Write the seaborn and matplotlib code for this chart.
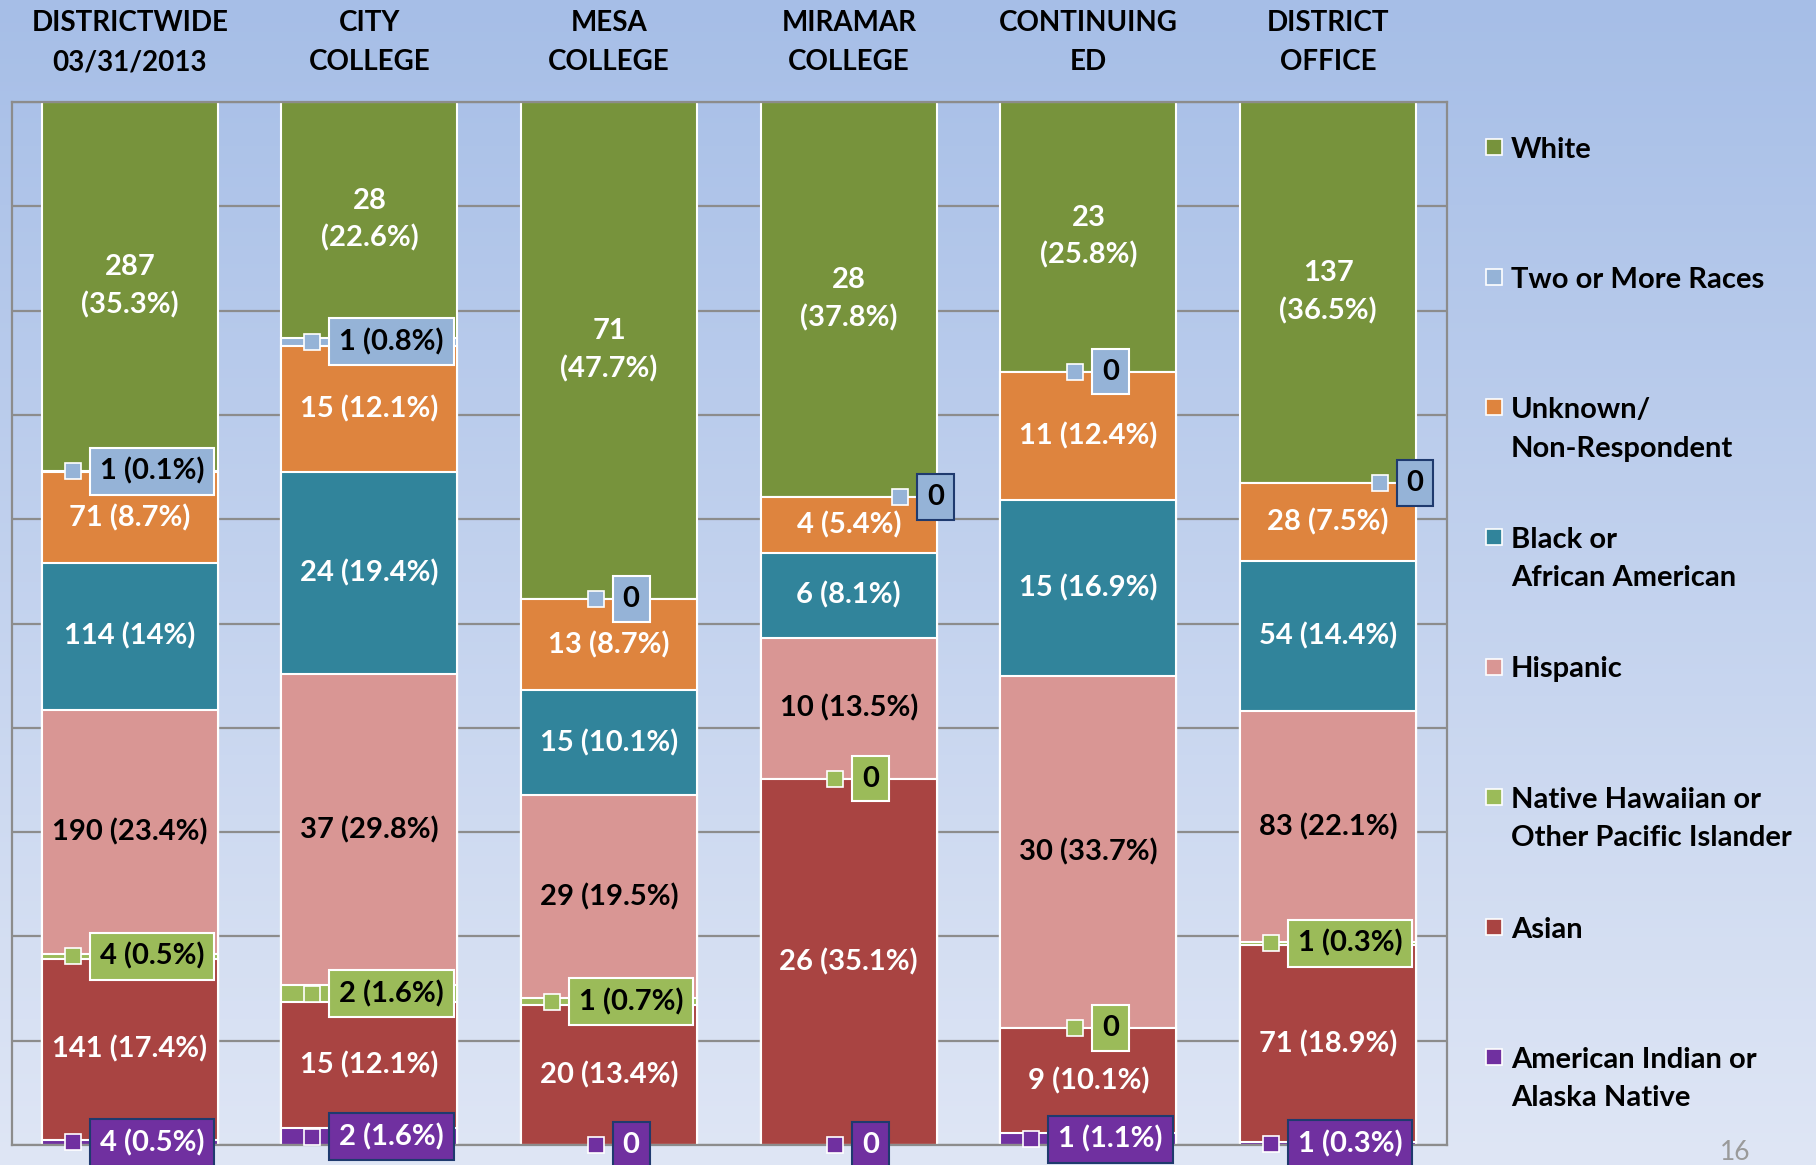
import numpy as np
import matplotlib
matplotlib.use("Agg")
import matplotlib.pyplot as plt
import matplotlib.transforms as mtransforms
from matplotlib.colors import LinearSegmentedColormap
from matplotlib.patches import Rectangle
import seaborn as sns

# campuses, left to right
campuses = ["DISTRICTWIDE\n03/31/2013", "CITY\nCOLLEGE", "MESA\nCOLLEGE",
            "MIRAMAR\nCOLLEGE", "CONTINUING\nED", "DISTRICT\nOFFICE"]

# race groups, top of stack to bottom
races = ["White", "Two or More Races", "Unknown/\nNon-Respondent",
         "Black or\nAfrican American", "Hispanic",
         "Native Hawaiian or\nOther Pacific Islander", "Asian",
         "American Indian or\nAlaska Native"]

white_n = [287, 28, 71, 28, 23, 137]
white_p = [35.3, 22.6, 47.7, 37.8, 25.8, 36.5]
two_n = [1, 1, 0, 0, 0, 0]
two_p = [0.1, 0.8, 0, 0, 0, 0]
unknown_n = [71, 15, 13, 4, 11, 28]
unknown_p = [8.7, 12.1, 8.7, 5.4, 12.4, 7.5]
black_n = [114, 24, 15, 6, 15, 54]
black_p = [14, 19.4, 10.1, 8.1, 16.9, 14.4]
hisp_n = [190, 37, 29, 10, 30, 83]
hisp_p = [23.4, 29.8, 19.5, 13.5, 33.7, 22.1]
nh_n = [4, 2, 1, 0, 0, 1]
nh_p = [0.5, 1.6, 0.7, 0, 0, 0.3]
asian_n = [141, 15, 20, 26, 9, 71]
asian_p = [17.4, 12.1, 13.4, 35.1, 10.1, 18.9]
aian_n = [4, 2, 0, 0, 1, 1]
aian_p = [0.5, 1.6, 0, 0, 1.1, 0.3]

colors = ["#77933c", "#95b3d7", "#de843e", "#31849b",
          "#d99694", "#9bbb59", "#a94442", "#7030a0"]

counts = np.array([white_n, two_n, unknown_n, black_n, hisp_n, nh_n, asian_n, aian_n])
pcts = np.array([white_p, two_p, unknown_p, black_p, hisp_p, nh_p, asian_p, aian_p])
share = counts / counts.sum(axis=0) * 100
tops = share[::-1].cumsum(axis=0)[::-1]      # top edge of each segment
bottoms = tops - share

callout_rows = {1, 5, 7}
moved = {(1, 3), (1, 5)}                     # labels dragged right in the original

sns.set_style("white")
plt.rcParams["font.family"] = ["Lato", "DejaVu Sans"]

W, H, DPI = 1816, 1165, 100
fig = plt.figure(figsize=(W / DPI, H / DPI), dpi=DPI)

# slide background
bg = fig.add_axes([0, 0, 1, 1], zorder=-10)
cmap = LinearSegmentedColormap.from_list("bg", ["#a6bee7", "#dfe6f5"])
bg.imshow(np.linspace(0, 1, 256)[:, None], aspect="auto", cmap=cmap,
          extent=[0, 1, 0, 1], origin="upper")
bg.axis("off")

ax = fig.add_axes([11.6 / W, (H - 1145) / H, (1447 - 11.6) / W, (1145 - 102) / H])
ax.patch.set_alpha(0)

# 100% stacked bars: draw cumulative heights from the top series down
for k in range(len(races)):
    sns.barplot(x=campuses, y=tops[k], order=campuses, color=colors[k],
                width=0.734, saturation=1, edgecolor="white", linewidth=1.5,
                errorbar=None, ax=ax, zorder=2)

ax.set_xlim(-0.493, 5.496)
ax.set_ylim(0, 100)
ax.set_xticks([])
ax.set_yticks(range(0, 101, 10))
ax.yaxis.grid(True, color="#8c8c8c", lw=1.6)
ax.set_axisbelow(True)
ax.tick_params(length=0, labelleft=False)
ax.set_xlabel("")
ax.set_ylabel("")
for s in ax.spines.values():
    s.set_color("#8c8c8c")
    s.set_linewidth(1.6)

# headers above the bars
trans = mtransforms.blended_transform_factory(ax.transData, fig.transFigure)
for j, name in enumerate(campuses):
    for li, line in enumerate(name.split("\n")):
        ax.text(j, 1 - (31 + 39 * li) / H, line, transform=trans, ha="center",
                va="baseline", fontsize=20, fontweight="bold", color="black")

# data labels
callouts = []
for k in range(len(races)):
    for j in range(len(campuses)):
        n, p = counts[k, j], pcts[k, j]
        mid = bottoms[k, j] + share[k, j] / 2
        txt = f"{n} ({p:g}%)" if n > 0 else "0"
        if k in callout_rows:
            dx = 0.363 if (k, j) in moved else 0.092
            edge = "#1f3a6e" if (k == 7 or (k, j) in moved) else "white"
            tc = "white" if k == 7 else "black"
            t = ax.text(j + dx, mid, txt, ha="center", va="center", fontsize=21,
                        fontweight="bold", color=tc, zorder=6, clip_on=False,
                        bbox=dict(boxstyle="square,pad=0.34", fc=colors[k], ec=edge, lw=1.5))
            callouts.append((t, k, mid))
        else:
            if k == 0:
                txt = f"{n}\n({p:g}%)"
            tc = "black" if k == 4 else "white"
            ax.text(j, mid, txt, ha="center", va="center", fontsize=21,
                    fontweight="bold", color=tc, zorder=4, linespacing=1.5)

fig.canvas.draw()
renderer = fig.canvas.get_renderer()
inv = ax.transData.inverted()
for t, k, mid in callouts:
    bb = t.get_bbox_patch().get_window_extent(renderer)
    xd = inv.transform((bb.x0 - 17, bb.y0))[0]
    ax.plot(xd, mid, marker="s", ms=12, mfc=colors[k], mec="white", mew=1.2,
            zorder=6, clip_on=False)

# legend on the right
for i, (name, c) in enumerate(zip(races, colors)):
    yc = 147 + 130 * i
    fig.add_artist(Rectangle(((1486) / W, 1 - (yc + 8) / H), 16 / W, 16 / H,
                             transform=fig.transFigure, fc=c, ec="white", lw=1.2))
    for li, line in enumerate(name.split("\n")):
        fig.text(1511 / W, 1 - (yc + 10.5 + 39 * li) / H, line, ha="left",
                 va="baseline", fontsize=21, fontweight="bold", color="black")

fig.text(1735 / W, 1 - 1153 / H, "16", ha="center", va="center",
         fontsize=19, color="#9a9a9a")

fig.savefig("out.png", dpi=DPI)
